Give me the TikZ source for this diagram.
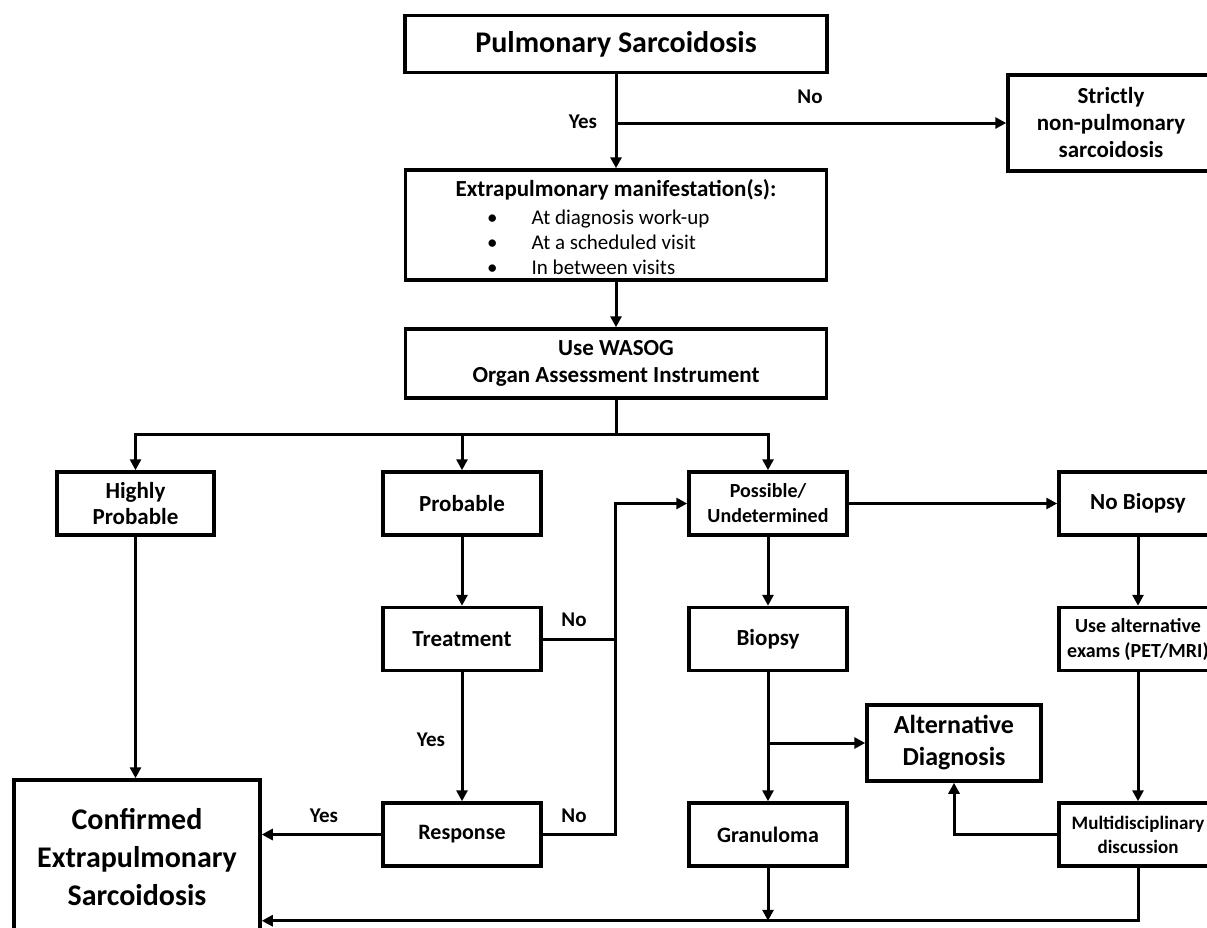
\documentclass[tikz,border=0pt]{standalone}
\usepackage{fontspec}
\setmainfont{Carlito}
\usepackage{tikz}
\usetikzlibrary{arrows.meta, positioning, calc}

\begin{document}
\begin{tikzpicture}[
    x=1pt, y=-1pt,
    box/.style={rectangle, draw, line width=3.5pt, inner sep=0pt, align=center, minimum width=#1},
    big/.style={font=\bfseries\fontsize{30}{38}\selectfont},
    mid/.style={font=\bfseries\fontsize{23}{26.5}\selectfont},
    small/.style={font=\bfseries\fontsize{20}{25}\selectfont},
    arrow/.style={-{Triangle[length=11pt, width=11pt]}, line width=3pt},
    line/.style={line width=3pt},
    tag/.style={font=\bfseries\fontsize{21}{25}\selectfont, inner sep=0pt}
]
\useasboundingbox (0,0) rectangle (1207,927);

% Top
\node[box=422pt, minimum height=57pt, big] (pulm) at (616,44) {Pulmonary Sarcoidosis};
\node[box=206pt, minimum height=96pt, mid, font=\bfseries\fontsize{23}{27}\selectfont] (strict) at (1111,123) {Strictly\\non-pulmonary\\sarcoidosis};

% Manifestations
\node[box=421pt, minimum height=110pt] (extra) at (616,225) {};
\node[mid, inner sep=0pt] (extra_title) at (616,190) {Extrapulmonary manifestation(s):};
\node[anchor=west, inner sep=0pt, align=left, font=\fontsize{21}{25}\selectfont] (extra_items) at (487,242)
    {\textbullet\hspace{34pt}At diagnosis work-up\\\textbullet\hspace{34pt}At a scheduled visit\\\textbullet\hspace{34pt}In between visits};

\node[box=421pt, minimum height=69pt, mid] (wasog) at (616,363.5) {Use WASOG\\Organ Assessment Instrument};

% First row
\node[box=157pt, minimum height=63pt, mid] (high) at (135.5,503.5) {Highly\\Probable};
\node[box=158pt, minimum height=63pt, mid] (prob) at (462,503.5) {Probable};
\node[box=158pt, minimum height=63pt, small] (poss) at (768,503.5) {Possible/\\Undetermined};
\node[box=158pt, minimum height=63pt, mid] (nobio) at (1138,503.5) {No Biopsy};

% Second row
\node[box=158pt, minimum height=63pt, mid, below=69pt of prob] (treat) {Treatment};
\node[box=158pt, minimum height=63pt, mid, below=69pt of poss] (biopsy) {Biopsy};
\node[box=158pt, minimum height=63pt, small, below=69pt of nobio] (usealt) {Use alternative\\exams (PET/MRI)};

% Third row
\node[box=158pt, minimum height=63pt, mid, font=\bfseries\fontsize{22}{26}\selectfont, below=129pt of treat] (resp) {Response};
\node[box=158pt, minimum height=63pt, mid, font=\bfseries\fontsize{22}{26}\selectfont, below=129pt of biopsy] (gran) {Granuloma};
\node[box=158pt, minimum height=63pt, font=\bfseries\fontsize{19}{24}\selectfont, below=129pt of usealt] (multi) {Multidisciplinary\\discussion};

\node[box=174pt, minimum height=76pt, font=\bfseries\fontsize{26}{32}\selectfont] (altdiag) at (954,743) {Alternative\\Diagnosis};
\node[box=246pt, minimum height=154pt, big] (conf) at (137,857) {Confirmed\\Extrapulmonary\\Sarcoidosis};

% Labels
\node[tag] (yes_top) at (583,122) {Yes};
\node[tag] (no_top) at (810,97) {No};
\node[tag] (no_treat) at (574,620) {No};
\node[tag] (yes_treat) at (431,740) {Yes};
\node[tag] (yes_resp) at (324,816) {Yes};
\node[tag] (no_resp) at (574,816) {No};

% Arrows
\draw[arrow] (pulm.south) -- (extra.north);
\coordinate (split_top) at (pulm.south |- strict.west);
\draw[arrow] (split_top) -- (strict.west);
\draw[arrow] (extra.south) -- (wasog.north);

\coordinate (split) at ([yshift=-35pt]wasog.south);
\draw[line] (wasog.south) -- (split);
\draw[arrow] (split) -| (high.north);
\draw[arrow] (split) -| (prob.north);
\draw[arrow] (split) -| (poss.north);

\draw[arrow] (high.south) -- (high.south |- conf.north);
\draw[arrow] (prob.south) -- (treat.north);
\draw[arrow] (treat.south) -- (resp.north);
\draw[arrow] (resp.west) -- (conf.east |- resp.west);

% No response / no treatment loop
\coordinate (loop) at ([xshift=73pt]resp.east);
\draw[arrow] (resp.east) -- (loop) |- (poss.west);
\draw[line] (treat.east) -- (treat.east -| loop);

\draw[arrow] (poss.east) -- (nobio.west);
\draw[arrow] (poss.south) -- (biopsy.north);
\draw[arrow] (biopsy.south) -- (gran.north);
\coordinate (split_bio) at (biopsy.south |- altdiag.west);
\draw[arrow] (split_bio) -- (altdiag.west);

\draw[arrow] (nobio.south) -- (usealt.north);
\draw[arrow] (usealt.south) -- (multi.north);
\draw[arrow] (multi.west) -| (altdiag.south);

% Bottom return line
\coordinate (bottom_right) at ([yshift=-53pt]multi.south);
\draw[arrow] (multi.south) -- (bottom_right) -- (conf.east |- bottom_right);
\draw[arrow] (gran.south) -- (gran.south |- bottom_right);

\end{tikzpicture}
\end{document}
